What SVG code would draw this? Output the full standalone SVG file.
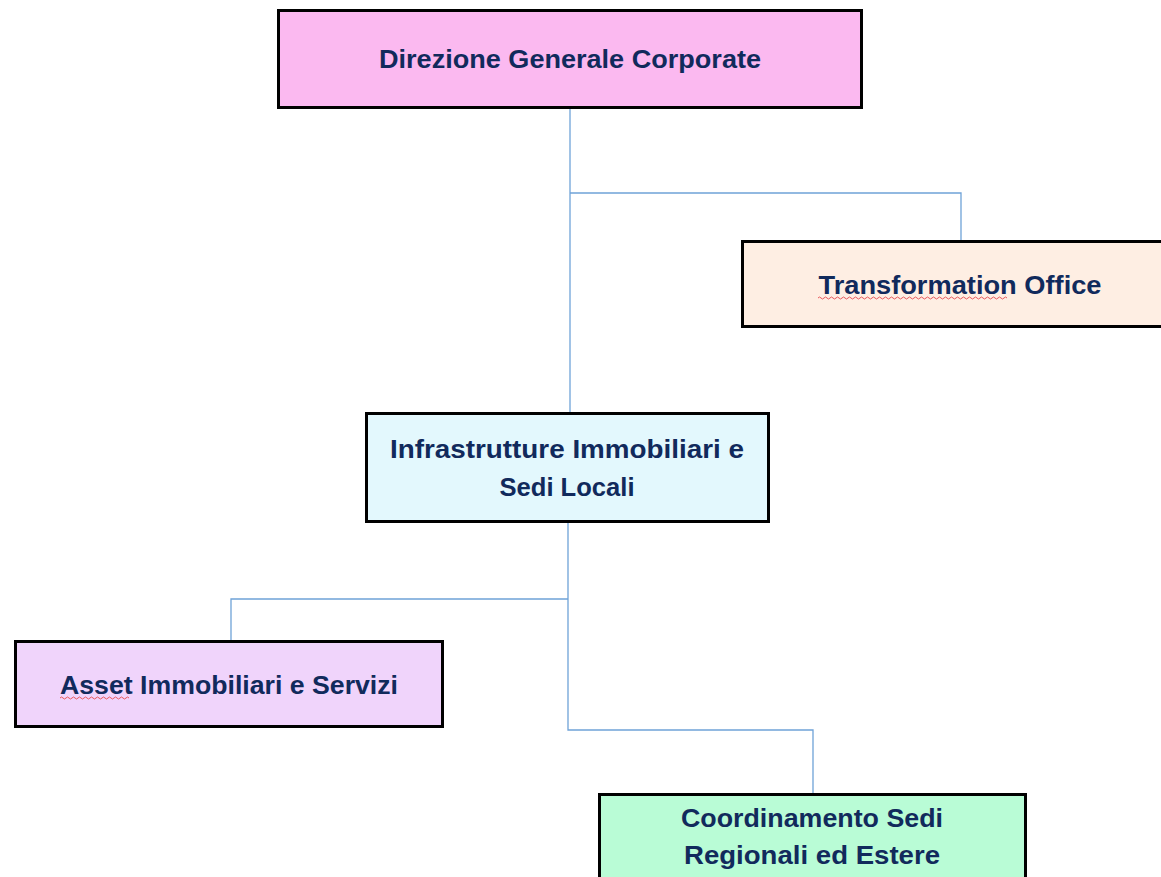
<svg xmlns="http://www.w3.org/2000/svg" width="1161" height="877" viewBox="0 0 1161 877">
  <style>
    .box { stroke: #000000; stroke-width: 3; }
    .label { font-family: "Liberation Sans", Arial, sans-serif; font-weight: bold; font-size: 26px; fill: #112A5C; text-anchor: middle; }
    .link { fill: none; stroke: #6FA3D8; stroke-width: 1.3; }
    .squiggle { fill: none; stroke: #E8585C; stroke-width: 1; }
  </style>
  <rect width="1161" height="877" fill="#FFFFFF"/>

  <g id="connectors">
    <path class="link" d="M570 108 V413"/>
    <path class="link" d="M570 193 H961 V241"/>
    <path class="link" d="M568 522 V730 H813 V794"/>
    <path class="link" d="M568 599 H231 V641"/>
  </g>

  <g id="direzione-generale">
    <rect class="box" x="278.5" y="10.5" width="583" height="97" fill="#FBB9F0"/>
    <text class="label" x="570" y="68" textLength="382" lengthAdjust="spacingAndGlyphs">Direzione Generale Corporate</text>
  </g>

  <g id="transformation-office">
    <rect class="box" x="742.5" y="241.5" width="425" height="85" fill="#FEEEE3"/>
    <text class="label" x="960" y="294" textLength="283" lengthAdjust="spacingAndGlyphs">Transformation Office</text>
    <path class="squiggle" d="M818 298 q1.5 -2 3 0 t3 0 t3 0 t3 0 t3 0 t3 0 t3 0 t3 0 t3 0 t3 0 t3 0 t3 0 t3 0 t3 0 t3 0 t3 0 t3 0 t3 0 t3 0 t3 0 t3 0 t3 0 t3 0 t3 0 t3 0 t3 0 t3 0 t3 0 t3 0 t3 0 t3 0 t3 0 t3 0 t3 0 t3 0 t3 0 t3 0 t3 0 t3 0 t3 0 t3 0 t3 0 t3 0 t3 0 t3 0 t3 0 t3 0 t3 0 t3 0 t3 0 t3 0 t3 0 t3 0 t3 0 t3 0 t3 0 t3 0 t3 0 t3 0 t3 0 t3 0 t3 0 t3 0"/>
  </g>

  <g id="infrastrutture">
    <rect class="box" x="366.5" y="413.5" width="402" height="108" fill="#E3F8FD"/>
    <text class="label" x="567" y="458" textLength="354" lengthAdjust="spacingAndGlyphs">Infrastrutture Immobiliari e</text>
    <text class="label" x="567" y="496" textLength="135" lengthAdjust="spacingAndGlyphs">Sedi Locali</text>
  </g>

  <g id="asset-immobiliari">
    <rect class="box" x="15.5" y="641.5" width="427" height="85" fill="#F0D4FB"/>
    <text class="label" x="229" y="694" textLength="338" lengthAdjust="spacingAndGlyphs">Asset Immobiliari e Servizi</text>
    <path class="squiggle" d="M60 698 q1.5 -2 3 0 t3 0 t3 0 t3 0 t3 0 t3 0 t3 0 t3 0 t3 0 t3 0 t3 0 t3 0 t3 0 t3 0 t3 0 t3 0 t3 0 t3 0 t3 0 t3 0 t3 0 t3 0 t3 0"/>
  </g>

  <g id="coordinamento-sedi">
    <rect class="box" x="599.5" y="794.5" width="426" height="90" fill="#B9FCD6"/>
    <text class="label" x="812" y="827" textLength="262" lengthAdjust="spacingAndGlyphs">Coordinamento Sedi</text>
    <text class="label" x="812" y="864" textLength="256" lengthAdjust="spacingAndGlyphs">Regionali ed Estere</text>
  </g>
</svg>
